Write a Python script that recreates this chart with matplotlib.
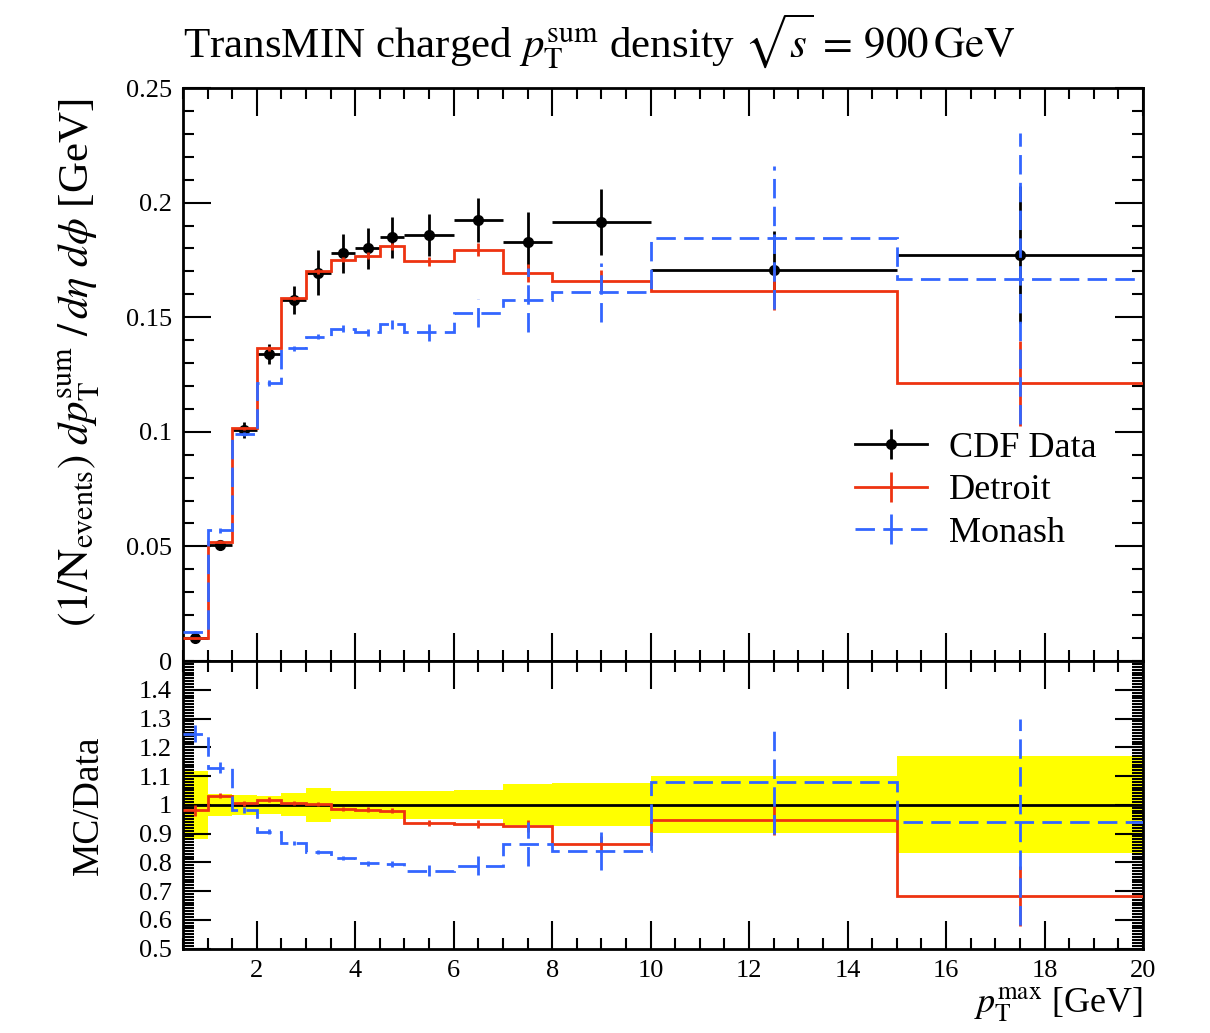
# TransMIN charged pT-sum density, CDF 900 GeV vs Detroit / Monash tunes
import numpy as np
import matplotlib
matplotlib.use('Agg')
import matplotlib.pyplot as plt
from matplotlib.lines import Line2D
from matplotlib.ticker import MultipleLocator, FixedLocator

plt.rcParams['font.family'] = ['Liberation Serif', 'DejaVu Serif']
plt.rcParams['mathtext.fontset'] = 'stix'

# bin edges in pT^max [GeV]
edges = np.array([0.5, 1.0, 1.5, 2.0, 2.5, 3.0, 3.5, 4.0, 4.5, 5.0,
                  6.0, 7.0, 8.0, 10.0, 15.0, 20.0])

# CDF data
data_val = np.array([0.0101, 0.0505, 0.1010, 0.1340, 0.1575, 0.1695, 0.1778, 0.1800,
                     0.1848, 0.1860, 0.1925, 0.1828, 0.1915, 0.1708, 0.1773])
data_err = np.array([0.0012, 0.0019, 0.0035, 0.0043, 0.0063, 0.0099, 0.0086, 0.0088,
                     0.0090, 0.0092, 0.0096, 0.0130, 0.0144, 0.0168, 0.0300])

# Detroit tune
det_val = np.array([0.0099, 0.0521, 0.1015, 0.1364, 0.1583, 0.1700, 0.1751, 0.1769,
                    0.1810, 0.1744, 0.1795, 0.1693, 0.1656, 0.1615, 0.1211])
det_err = np.array([0.0002, 0.0005, 0.0008, 0.0010, 0.0010, 0.0012, 0.0012, 0.0015,
                    0.0015, 0.0020, 0.0027, 0.0040, 0.0050, 0.0085, 0.0186])

# Monash tune
mon_val = np.array([0.0126, 0.0570, 0.0991, 0.1214, 0.1364, 0.1415, 0.1449, 0.1434,
                    0.1469, 0.1434, 0.1518, 0.1576, 0.1608, 0.1846, 0.1668])
mon_err = np.array([0.0003, 0.0010, 0.0010, 0.0012, 0.0012, 0.0012, 0.0015, 0.0015,
                    0.0020, 0.0038, 0.0062, 0.0140, 0.0127, 0.0312, 0.0636])

red = '#EE3311'
blue = '#3366FF'
dash = (0, (7, 3))

centers = 0.5 * (edges[1:] + edges[:-1])
halfw = 0.5 * np.diff(edges)

fig = plt.figure(figsize=(12.1, 10.33), dpi=100)
ax = fig.add_axes([0.1512, 0.3601, 0.7934, 0.5547])
axr = fig.add_axes([0.1512, 0.0818, 0.7934, 0.2783], sharex=ax)

# main panel
ax.errorbar(centers, data_val, xerr=halfw, yerr=data_err, fmt='o', color='k',
            ms=7, elinewidth=2, capsize=0, zorder=3)
ax.stairs(det_val, edges, color=red, lw=2, baseline=None, zorder=4)
ax.errorbar(centers, det_val, yerr=det_err, fmt='none', ecolor=red,
            elinewidth=2, capsize=0, zorder=4)
ax.stairs(mon_val, edges, color=blue, lw=2, ls=dash, baseline=None, zorder=5)
eb = ax.errorbar(centers, mon_val, yerr=mon_err, fmt='none', ecolor=blue,
                 elinewidth=2, capsize=0, zorder=5)
eb[2][0].set_linestyle(dash)

ax.set_xlim(0.5, 20)
ax.set_ylim(0, 0.25)
ax.yaxis.set_major_locator(FixedLocator([0, 0.05, 0.1, 0.15, 0.2, 0.25]))
ax.set_yticklabels(['0', '0.05', '0.1', '0.15', '0.2', '0.25'])
ax.yaxis.set_minor_locator(MultipleLocator(0.01))
ax.set_ylabel(r'$(1/\mathrm{N}_{\mathrm{events}})\ d p_{\mathrm{T}}^{\mathrm{sum}}\ /\, d\eta\ d\phi$ [GeV]',
              fontsize=31)
ax.yaxis.set_label_coords(-0.084, 0.52)
ax.tick_params(labelbottom=False)

handles = [
    (Line2D([], [], color='k', lw=2), Line2D([], [], color='k', marker='|', ms=22, mew=2, ls='none'),
     Line2D([], [], color='k', marker='o', ms=7, ls='none')),
    (Line2D([], [], color=red, lw=2), Line2D([], [], color=red, marker='|', ms=22, mew=2, ls='none')),
    (Line2D([], [], color=blue, lw=2, ls=dash), Line2D([], [], color=blue, marker='|', ms=22, mew=2, ls='none')),
]
ax.legend(handles, ['CDF Data', 'Detroit', 'Monash'], loc='upper left',
          bbox_to_anchor=(0.70, 0.40), frameon=False, fontsize=26,
          handlelength=2.0, handletextpad=0.6, labelspacing=0.25,
          borderpad=0, borderaxespad=0)

fig.text(0.1512, 0.944,
         r'TransMIN charged $p_{\mathrm{T}}^{\mathrm{sum}}$ density $\sqrt{s}\, =\, 900\,\mathrm{GeV}$',
         fontsize=31, ha='left', va='baseline')

# ratio panel
rel = data_err / data_val
axr.stairs(1 + rel, edges, baseline=1 - rel, fill=True, color='#FFFF00', lw=0, zorder=1)
axr.stairs(data_val / data_val, edges, color='k', lw=2, baseline=None, zorder=3)
axr.stairs(det_val / data_val, edges, color=red, lw=2, baseline=None, zorder=4)
axr.errorbar(centers, det_val / data_val, yerr=det_err / data_val, fmt='none',
             ecolor=red, elinewidth=2, capsize=0, zorder=4)
axr.stairs(mon_val / data_val, edges, color=blue, lw=2, ls=dash, baseline=None, zorder=5)
ebr = axr.errorbar(centers, mon_val / data_val, yerr=mon_err / data_val, fmt='none',
                   ecolor=blue, elinewidth=2, capsize=0, zorder=5)
ebr[2][0].set_linestyle(dash)

axr.set_ylim(0.5, 1.5)
rticks = [0.5, 0.6, 0.7, 0.8, 0.9, 1.0, 1.1, 1.2, 1.3, 1.4]
axr.yaxis.set_major_locator(FixedLocator(rticks))
axr.set_yticklabels(['0.5', '0.6', '0.7', '0.8', '0.9', '1', '1.1', '1.2', '1.3', '1.4'])
axr.yaxis.set_minor_locator(MultipleLocator(0.01))
axr.set_ylabel('MC/Data', fontsize=27)
axr.yaxis.set_label_coords(-0.080, 0.5)
axr.set_xlabel(r'$p_{\mathrm{T}}^{\mathrm{max}}$ [GeV]', fontsize=26, ha='right')
axr.xaxis.set_label_coords(1.0, -0.13)

for a in (ax, axr):
    a.xaxis.set_major_locator(MultipleLocator(2))
    a.xaxis.set_minor_locator(MultipleLocator(0.5))
    a.tick_params(which='both', direction='in', top=True, right=True, width=1.5, labelsize=19)
    a.tick_params(which='major', length=20)
    a.tick_params(which='minor', length=8)
    a.tick_params(axis='y', pad=8)
    for s in a.spines.values():
        s.set_linewidth(2)
axr.set_xticks([2, 4, 6, 8, 10, 12, 14, 16, 18, 20])
axr.set_xticklabels(['2', '4', '6', '8', '10', '12', '14', '16', '18', '20'])
axr.tick_params(axis='x', pad=8)
axr.set_xlim(0.5, 20)

fig.savefig('out.png', dpi=100)
